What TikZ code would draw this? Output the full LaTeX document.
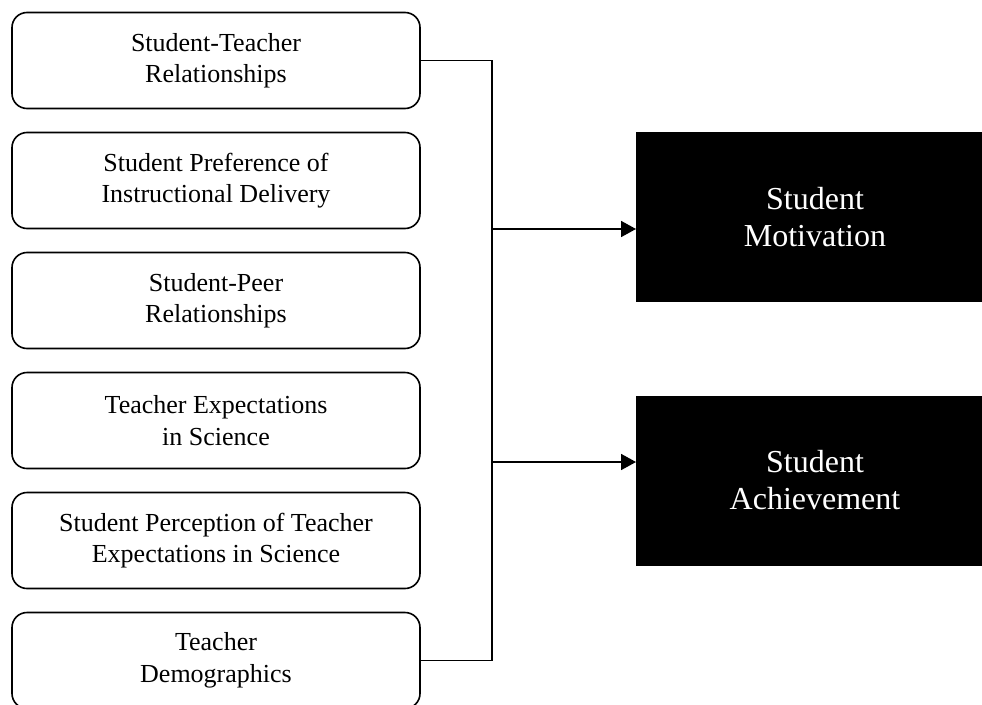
\documentclass[tikz,border=0pt]{standalone}
\usepackage{fontspec}
\setmainfont{Liberation Serif}
\usepackage{tikz}
\usetikzlibrary{positioning, arrows.meta}
\tikzset{
	factor/.style={draw=black, line width=1.6pt, rounded corners=15pt, align=center,
	minimum width=408pt, minimum height=96pt, inner sep=0pt, outer sep=0pt,
	font=\fontsize{26}{31.5}\selectfont},
	outcome/.style={fill=black, text=white, align=center,
	minimum width=358pt, minimum height=170pt, inner sep=0pt, outer sep=0pt,
	font=\fontsize{32}{37}\selectfont},
	link/.style={draw=black, line width=1.8pt},
	arrowlink/.style={link, -{Triangle[length=15pt, width=16pt]}}
}

\begin{document}
\begin{tikzpicture}[x=1pt, y=-1pt, node distance=24pt]
		\useasboundingbox (0, 0) rectangle (982, 704);

		% factors on the left
		\node[factor] (rel) at (216, 60.5) {Student-Teacher\\Relationships};
		\node[factor, below=of rel] (pref) {Student Preference of\\Instructional Delivery};
		\node[factor, below=of pref] (peer) {Student-Peer\\Relationships};
		\node[factor, below=of peer] (expect) {Teacher Expectations\\ in Science};
		\node[factor, below=of expect] (percep) {Student Perception of Teacher\\Expectations in Science};
		\node[factor, below=of percep] (demo) {Teacher\\Demographics};

		% outcomes on the right
		\node[outcome] (motiv) at (815, 217) {Student\\Motivation};
		\node[outcome] (achiev) at (815, 480.5) {Student\\Achievement};

		% bus line
		\coordinate (bus) at ([xshift=72pt]rel.east);
		\draw[link] (rel.east) -- (bus) |- (demo.east);

		% arrows
		\draw[arrowlink] (bus |- 0, 229) -- (motiv.west |- 0, 229);
		\draw[arrowlink] (bus |- 0, 462) -- (achiev.west |- 0, 462);

	\end{tikzpicture}
\end{document}
